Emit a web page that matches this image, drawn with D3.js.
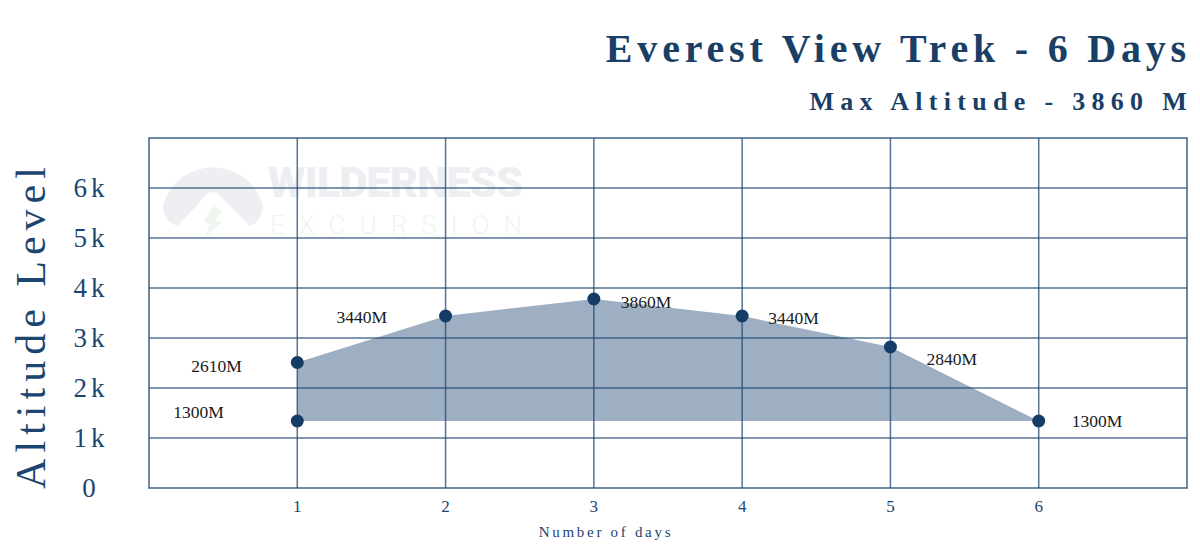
<!DOCTYPE html>
<html>
<head>
<meta charset="utf-8">
<script src="https://cdn.jsdelivr.net/npm/d3@7"></script>
<style>
  body { margin: 0; background: #fff; }
  svg text { font-family: "Liberation Serif", "Times New Roman", serif; }
</style>
</head>
<body>
<div id="container"></div>
<script>
/* DATA */
const days = [1, 1, 2, 3, 4, 5, 6];
const altitudes = [1340, 2510, 3440, 3780, 3440, 2820, 1340];
const altitudeLabels = ["1300M", "2610M", "3440M", "3860M", "3440M", "2840M", "1300M"];
const xTicks = [1, 2, 3, 4, 5, 6];
const yTicks = [0, 1000, 2000, 3000, 4000, 5000, 6000];
const yTickLabels = ["0", "1k", "2k", "3k", "4k", "5k", "6k"];

/* CONSTANTS */
const width = 1200, height = 556,
      margin = { top: 138, bottom: 68, left: 149, right: 13 };
const navy = "#1c4670", dot = "#143c66";

const svg = d3.select("#container").append("svg")
  .attr("width", width)
  .attr("height", height);

/* SCALES */
const xScale = d3.scaleLinear()
  .domain([0, 7])
  .range([margin.left, width - margin.right]);

const yScale = d3.scaleLinear()
  .domain([0, 7000])
  .range([height - margin.bottom, margin.top]);

/* WATERMARK */
const wm = svg.append("g").attr("opacity", 0.9);
wm.append("path")
  .attr("d", "M163,205 A52,52 0 0 1 263,205 Q262,222 250,226 L220,196 Q213,188 205,196 L178,226 Q163,222 163,205 Z")
  .attr("fill", "#eceef1");
wm.append("path")
  .attr("d", "M214,204 L222,212 L214,220 L222,222 L204,238 L210,224 L203,222 Z")
  .attr("fill", "#eef5ee");
wm.append("text")
  .attr("x", 268).attr("y", 197)
  .style("font-family", "Roboto, 'Liberation Sans', sans-serif")
  .style("font-weight", 900)
  .style("font-size", "43px")
  .attr("textLength", 255)
  .attr("fill", "#ebedf0")
  .text("WILDERNESS");
wm.append("text")
  .attr("x", 270).attr("y", 234)
  .style("font-family", "Roboto, 'Liberation Sans', sans-serif")
  .style("font-weight", 300)
  .style("font-size", "26px")
  .attr("textLength", 252)
  .attr("fill", "#eef5ee")
  .text("EXCURSION");

/* AREA */
const pts = days.map((d, i) => ({ day: d, alt: altitudes[i], label: altitudeLabels[i] }));
const outline = pts.slice(1);
const area = d3.area()
  .x(d => xScale(d.day))
  .y0(yScale(altitudes[0]))
  .y1(d => yScale(d.alt));
svg.append("path")
  .datum(outline)
  .attr("d", area)
  .attr("fill", "#9eafc3");

/* GRID */
svg.append("g")
  .selectAll("line")
  .data(yTicks.slice(1))
  .join("line")
    .attr("x1", margin.left).attr("x2", width - margin.right)
    .attr("y1", d => yScale(d)).attr("y2", d => yScale(d))
    .attr("stroke", navy).attr("stroke-opacity", 0.75).attr("stroke-width", 1.5);

svg.append("g")
  .selectAll("line")
  .data(xTicks)
  .join("line")
    .attr("x1", d => xScale(d)).attr("x2", d => xScale(d))
    .attr("y1", margin.top).attr("y2", height - margin.bottom)
    .attr("stroke", navy).attr("stroke-opacity", 0.75).attr("stroke-width", 1.5);

svg.append("rect")
  .attr("x", margin.left).attr("y", margin.top)
  .attr("width", width - margin.left - margin.right)
  .attr("height", height - margin.top - margin.bottom)
  .attr("fill", "none")
  .attr("stroke", navy).attr("stroke-opacity", 0.85).attr("stroke-width", 1.5);

/* POINTS AND LABELS */
svg.append("g")
  .selectAll("circle")
  .data(pts)
  .join("circle")
    .attr("cx", d => xScale(d.day))
    .attr("cy", d => yScale(d.alt))
    .attr("r", 6.5)
    .attr("fill", dot);

// label offsets relative to each point
const labelOffsets = [[-124, -9], [-106, 3], [-109, 1], [27, 3], [26, 2], [36, 12], [33, 0]];
svg.append("g")
  .selectAll("text")
  .data(pts)
  .join("text")
    .attr("x", (d, i) => xScale(d.day) + labelOffsets[i][0])
    .attr("y", (d, i) => yScale(d.alt) + labelOffsets[i][1])
    .attr("dy", "0.35em")
    .attr("fill", "#1a1a1a")
    .style("font-size", "17.5px")
    .text(d => d.label);

/* AXES TEXT */
svg.append("g")
  .selectAll("text")
  .data(yTicks)
  .join("text")
    .attr("x", 91)
    .attr("y", d => yScale(d))
    .attr("dy", "0.35em")
    .attr("text-anchor", "middle")
    .attr("fill", navy)
    .style("font-size", "27px")
    .style("letter-spacing", "4px")
    .text((d, i) => yTickLabels[i]);

svg.append("g")
  .selectAll("text")
  .data(xTicks)
  .join("text")
    .attr("x", d => xScale(d))
    .attr("y", 506)
    .attr("dy", "0.35em")
    .attr("text-anchor", "middle")
    .attr("fill", navy)
    .style("font-size", "17px")
    .text(d => d);

svg.append("text")
  .attr("x", 606).attr("y", 532)
  .attr("dy", "0.35em")
  .attr("text-anchor", "middle")
  .attr("fill", navy)
  .style("font-size", "15px")
  .style("letter-spacing", "2.7px")
  .text("Number of days");

svg.append("text")
  .attr("transform", "translate(45,325) rotate(-90)")
  .attr("text-anchor", "middle")
  .attr("fill", navy)
  .style("font-size", "42px")
  .style("letter-spacing", "6px")
  .text("Altitude Level");

/* TITLES */
svg.append("text")
  .attr("x", 1191).attr("y", 62)
  .attr("text-anchor", "end")
  .attr("fill", "#1a3f66")
  .style("font-size", "40px")
  .style("font-weight", "bold")
  .style("letter-spacing", "4.8px")
  .text("Everest View Trek - 6 Days");

svg.append("text")
  .attr("x", 1193).attr("y", 110)
  .attr("text-anchor", "end")
  .attr("fill", "#1a3f66")
  .style("font-size", "26px")
  .style("font-weight", "bold")
  .style("letter-spacing", "6.3px")
  .text("Max Altitude - 3860 M");
</script>
</body>
</html>
